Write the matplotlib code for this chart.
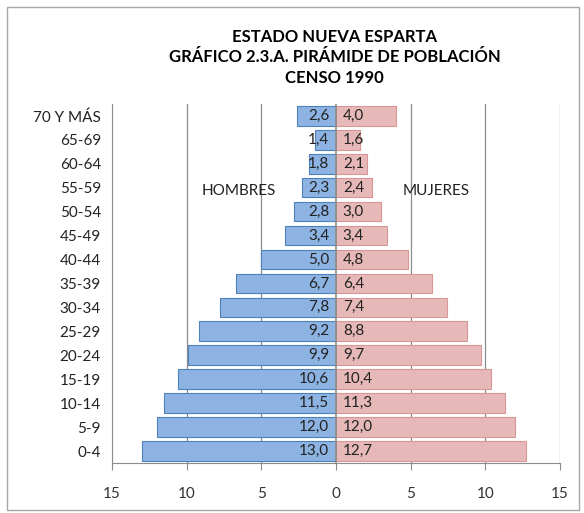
import numpy as np
import matplotlib.pyplot as plt
from matplotlib.patches import Rectangle

plt.rcParams['font.family'] = ['Lato', 'DejaVu Sans']

grupos = ['0-4', '5-9', '10-14', '15-19', '20-24', '25-29', '30-34', '35-39',
          '40-44', '45-49', '50-54', '55-59', '60-64', '65-69', '70 Y MÁS']
hombres = [13.0, 12.0, 11.5, 10.6, 9.9, 9.2, 7.8, 6.7, 5.0, 3.4, 2.8, 2.3, 1.8, 1.4, 2.6]
mujeres = [12.7, 12.0, 11.3, 10.4, 9.7, 8.8, 7.4, 6.4, 4.8, 3.4, 3.0, 2.4, 2.1, 1.6, 4.0]
ticks = [-15, -10, -5, 0, 5, 10, 15]
tick_labels = ['15', '10', '5', '0', '5', '10', '15']

fig = plt.figure(figsize=(5.84, 5.13), dpi=100)
ax = fig.add_axes([0.192, 0.0975, 0.767, 0.7])

y = np.arange(len(grupos))
h = np.array(hombres)
m = np.array(mujeres)

for xg in [-10, -5, 5, 10, 15]:
    ax.axvline(xg, color='#8c8c8c', lw=0.9, zorder=0)

ax.barh(y, -h, height=0.82, color='#8DB3E2', edgecolor='#4F81BD', lw=0.8, zorder=2)
ax.barh(y, m, height=0.82, color='#E6B9B8', edgecolor='#D99694', lw=0.8, zorder=2)
ax.axvline(0, color='#8c8c8c', lw=1.2, zorder=3)

fmt = lambda v: f'{v:.1f}'.replace('.', ',')
for i in range(len(grupos)):
    ax.text(-0.45, y[i], fmt(h[i]), ha='right', va='center', fontsize=11, color='#222222', zorder=4)
    ax.text(0.45, y[i], fmt(m[i]), ha='left', va='center', fontsize=11, color='#222222', zorder=4)

ax.text(-6.5, 10.85, 'HOMBRES', ha='center', va='center', fontsize=11, color='#222222')
ax.text(6.7, 10.85, 'MUJERES', ha='center', va='center', fontsize=11, color='#222222')

ax.set_xlim(-15, 15)
ax.set_ylim(-0.5, len(grupos) - 0.5)
ax.set_xticks(ticks)
ax.set_xticklabels(tick_labels, fontsize=11, color='#333333')
ax.set_yticks(y)
ax.set_yticklabels(grupos, fontsize=11, color='#222222')
ax.tick_params(axis='y', length=0, pad=8)
ax.tick_params(axis='x', length=5, color='#8c8c8c', pad=12)
for s in ['top', 'right']:
    ax.spines[s].set_visible(False)
ax.spines['left'].set_color('#8c8c8c')
ax.spines['bottom'].set_color('#8c8c8c')

fig.text(0.573, 0.888, 'ESTADO NUEVA ESPARTA\nGRÁFICO 2.3.A. PIRÁMIDE DE POBLACIÓN\nCENSO 1990',
         ha='center', va='center', fontsize=12, fontweight='bold', linespacing=1.35)

fig.patches.append(Rectangle((0.012, 0.006), 0.98, 0.98, transform=fig.transFigure,
                             fill=False, edgecolor='#a6a6a6', lw=1))

fig.savefig('out.png', dpi=100)
